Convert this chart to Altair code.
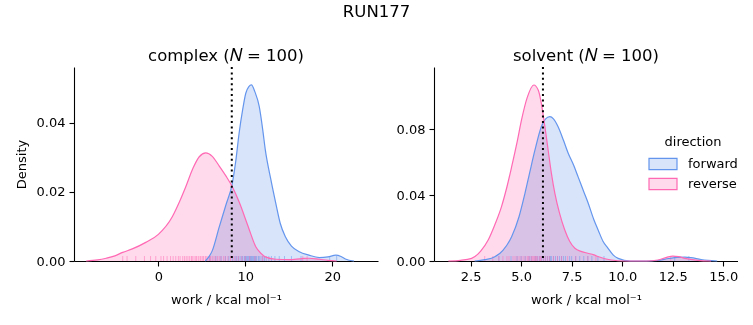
import altair as alt
import pandas as pd

# ---------------- data ----------------
directions = ["forward", "reverse"]
colors = ["#6495ED", "#FF69B4"]
# the same colours at 25 % over white (area fills, blended with multiply)
fill_colors = ["#D8E4FA", "#FFDAEC"]

# complex: KDE curves
cx_fwd_x = [5.4, 6.2, 7.0, 7.8, 8.5, 8.9, 9.28, 9.7, 10.05, 10.4, 10.7, 11.1, 11.6, 12.0, 12.3, 12.9, 13.5,
            14.0, 14.6, 15.3, 16.2, 17.3, 18.5, 19.5, 20.4, 21.0, 21.5, 22.5]
cx_fwd_y = [0.0, 0.003, 0.0099, 0.0165, 0.0225, 0.029, 0.037, 0.044, 0.0486, 0.0505, 0.051, 0.049, 0.0447,
            0.038, 0.0321, 0.024, 0.0167, 0.011, 0.007, 0.0043, 0.0027, 0.0017, 0.001, 0.0012, 0.0017,
            0.0013, 0.0006, 0.0]
cx_rev_x = [-8.3, -7.0, -6.0, -5.0, -4.1, -3.0, -1.45, 0.0, 1.6, 2.4, 3.15, 4.0, 4.7, 5.45, 6.2, 7.0, 7.8,
            8.5, 9.3, 10.05, 10.6, 11.2, 11.8, 12.3, 13.5, 15.0, 16.5, 17.3, 18.5, 19.5, 20.5]
cx_rev_y = [0.0, 0.0003, 0.0008, 0.0015, 0.0025, 0.0035, 0.0054, 0.0077, 0.0128, 0.017, 0.0215, 0.027,
            0.0302, 0.0313, 0.0303, 0.0275, 0.0245, 0.0215, 0.017, 0.0119, 0.008, 0.0041, 0.0022, 0.0012,
            0.0005, 0.0004, 0.0007, 0.0008, 0.0005, 0.0002, 0.0]

# solvent: KDE curves
sv_fwd_x = [2.7, 3.2, 3.7, 4.1, 4.53, 4.9, 5.19, 5.45, 5.68, 6.0, 6.2, 6.42, 6.6, 6.83, 7.1, 7.33, 7.6, 7.82,
            8.1, 8.32, 8.6, 8.81, 9.05, 9.3, 9.55, 9.8, 10.4, 11.3, 11.77, 12.3, 12.75, 13.1, 13.4, 13.9,
            14.24, 14.7]
sv_fwd_y = [0.0, 0.0008, 0.0026, 0.0065, 0.0147, 0.027, 0.041, 0.055, 0.067, 0.0814, 0.086, 0.0875, 0.0862,
            0.0814, 0.073, 0.0653, 0.058, 0.051, 0.042, 0.035, 0.025, 0.0188, 0.012, 0.0077, 0.0037, 0.0016,
            0.0, 0.0, 0.0003, 0.0015, 0.0022, 0.0023, 0.002, 0.0009, 0.0004, 0.0]
sv_rev_x = [1.4, 2.0, 2.55, 3.0, 3.37, 3.7, 4.03, 4.3, 4.53, 4.8, 5.02, 5.3, 5.63, 5.85, 6.0, 6.17, 6.34,
            6.5, 6.67, 6.9, 7.16, 7.4, 7.66, 8.0, 8.3, 8.6, 8.8, 9.1, 9.47, 10.1, 11.2, 11.77, 12.2, 12.5,
            12.8, 13.1, 13.75, 14.4]
sv_rev_y = [0.0, 0.0004, 0.0016, 0.006, 0.0127, 0.022, 0.033, 0.045, 0.057, 0.072, 0.0855, 0.099, 0.1067,
            0.1035, 0.0956, 0.082, 0.067, 0.053, 0.041, 0.029, 0.0188, 0.012, 0.0077, 0.0057, 0.0047,
            0.0037, 0.0027, 0.0015, 0.0006, 0.0, 0.0, 0.0006, 0.0022, 0.003, 0.0026, 0.0016, 0.0004, 0.0]

# rug samples
cx_fwd_rug = [5.9, 6.6, 7.2, 7.7, 8.1, 8.5, 8.8, 9.0, 9.2, 9.4, 9.6, 9.7, 9.9, 10.0, 10.1, 10.2, 10.3, 10.4,
              10.5, 10.6, 10.7, 10.8, 10.9, 11.0, 11.1, 11.2, 11.3, 11.5, 11.6, 11.8, 12.0, 12.2, 12.4,
              12.7, 13.0, 13.4, 13.9, 14.5, 15.3, 16.4, 19.7, 20.5]
cx_rev_rug = [-4.1, -3.6, -2.6, -1.6, -0.9, -0.3, 0.3, 0.6, 1.0, 1.4, 1.7, 2.0, 2.3, 2.5, 2.8, 3.0, 3.2,
              3.4, 3.6, 3.8, 3.9, 4.1, 4.3, 4.4, 4.6, 4.8, 4.9, 5.1, 5.2, 5.4, 5.5, 5.7, 5.9, 6.0, 6.2,
              6.4, 6.6, 6.8, 7.0, 7.2, 7.5, 7.7, 8.0, 8.3, 8.6, 8.9, 9.2, 9.6, 10.0, 10.5, 11.1, 12.0,
              16.6, 17.1]
sv_fwd_rug = [3.9, 4.5, 4.8, 5.0, 5.2, 5.4, 5.5, 5.7, 5.8, 5.9, 6.0, 6.1, 6.2, 6.3, 6.4, 6.45, 6.5, 6.6,
              6.7, 6.8, 6.9, 7.0, 7.1, 7.2, 7.4, 7.5, 7.7, 7.9, 8.1, 8.3, 8.5, 8.8, 9.1, 12.6, 13.3]
sv_rev_rug = [3.2, 3.6, 3.9, 4.1, 4.3, 4.4, 4.6, 4.7, 4.8, 4.9, 5.0, 5.1, 5.2, 5.3, 5.35, 5.4, 5.5, 5.55,
              5.6, 5.65, 5.7, 5.75, 5.8, 5.9, 5.95, 6.0, 6.1, 6.2, 6.3, 6.4, 6.6, 6.8, 7.0, 7.3, 7.7, 8.3,
              8.7, 12.4]

# vertical dotted reference lines
cx_vline = [8.44]
sv_vline = [6.08]

panel_titles = ["complex (\U0001D441 = 100)", "solvent (\U0001D441 = 100)"]
x_title = "work / kcal mol\u207B\u00B9"

W, H = 304, 194
FONT = "DejaVu Sans"

stroke_scale = alt.Scale(domain=directions, range=colors)
fill_scale = alt.Scale(domain=directions, range=fill_colors)


def curves_df(fx, fy, rx, ry):
    a = pd.DataFrame({"work": fx, "density": fy, "direction": "forward"})
    b = pd.DataFrame({"work": rx, "density": ry, "direction": "reverse"})
    return pd.concat([a, b], ignore_index=True)


def rug_df(f, r):
    return pd.concat([pd.DataFrame({"work": f, "direction": "forward"}),
                      pd.DataFrame({"work": r, "direction": "reverse"})], ignore_index=True)


legend = alt.Legend(
    title="direction", orient="none", legendX=574, legendY=69, padding=0,
    symbolType="M-1,-0.4H1V0.4H-1Z", symbolSize=784, clipHeight=18, rowPadding=2,
    labelOffset=10, titleAnchor="middle", titlePadding=6, symbolStrokeWidth=1.2,
)


def panel(title, cdf, rdf, vline, xdom, ydom, xticks, yticks, xfmt, ytitle):
    xs = alt.Scale(domain=xdom, nice=False, zero=False)
    ys = alt.Scale(domain=ydom, nice=False)
    xaxis = alt.Axis(values=xticks, format=xfmt, title=x_title, titlePadding=10, labelOverlap=False)
    yaxis = alt.Axis(values=yticks, format=".2f", title=ytitle, titlePadding=8, labelOverlap=False)
    area = alt.Chart(cdf).mark_area(blend="multiply", interpolate="monotone").encode(
        x=alt.X("work:Q", scale=xs, axis=xaxis),
        y=alt.Y("density:Q", scale=ys, axis=yaxis, stack=None),
        fill=alt.Fill("direction:N", scale=fill_scale, legend=legend),
    )
    rug = alt.Chart(rdf).mark_rule(strokeWidth=1, strokeOpacity=0.5).encode(
        x=alt.X("work:Q", scale=xs),
        y=alt.value(H - 5),
        y2=alt.value(H),
        stroke=alt.Stroke("direction:N", scale=stroke_scale, legend=legend),
    )
    line = alt.Chart(cdf).mark_line(strokeWidth=1.2, strokeOpacity=1, interpolate="monotone").encode(
        x=alt.X("work:Q", scale=xs),
        y=alt.Y("density:Q", scale=ys, stack=None),
        stroke=alt.Stroke("direction:N", scale=stroke_scale, legend=legend),
    )
    vl = alt.Chart(pd.DataFrame({"work": vline})).mark_rule(
        color="black", strokeWidth=2, strokeDash=[2, 3.4]
    ).encode(x=alt.X("work:Q", scale=xs))
    return alt.layer(area, rug, line, vl).properties(
        width=W, height=H,
        title=alt.Title(title, fontSize=16.5, font=FONT, fontWeight="normal", offset=2),
    )


left = panel(panel_titles[0], curves_df(cx_fwd_x, cx_fwd_y, cx_rev_x, cx_rev_y),
             rug_df(cx_fwd_rug, cx_rev_rug), cx_vline, [-9.7, 25.25], [0, 0.0562],
             [0, 10, 20], [0, 0.01, 0.02, 0.03, 0.04, 0.05], "d", "Density")
right = panel(panel_titles[1], curves_df(sv_fwd_x, sv_fwd_y, sv_rev_x, sv_rev_y),
              rug_df(sv_fwd_rug, sv_rev_rug), sv_vline, [0.69, 15.73], [0, 0.1176],
              [2.5, 5, 7.5, 10, 12.5, 15], [0, 0.02, 0.04, 0.06, 0.08, 0.10], ".1f", None)

chart = alt.hconcat(left, right, spacing=18).properties(
    title=alt.Title("RUN177", fontSize=16.5, font=FONT, fontWeight="normal", anchor="middle", offset=27),
).configure(
    padding={"left": 15, "top": 4, "right": 0, "bottom": 0},
    autosize="pad",
).configure_view(stroke=None).configure_axis(
    labelFont=FONT, labelFontSize=13, labelColor="black",
    titleFont=FONT, titleFontSize=13, titleFontWeight="normal", titleColor="black",
    domainColor="black", tickColor="black", domainWidth=1.1, tickWidth=1.1, tickSize=5,
    labelPadding=4, labelOverlap=False, grid=False,
).configure_legend(
    labelFont=FONT, labelFontSize=13, labelColor="black",
    titleFont=FONT, titleFontSize=13, titleFontWeight="normal", titleColor="black",
).configure_title(color="black")

chart.save("out.html", embed_options={"renderer": "svg", "actions": False})
